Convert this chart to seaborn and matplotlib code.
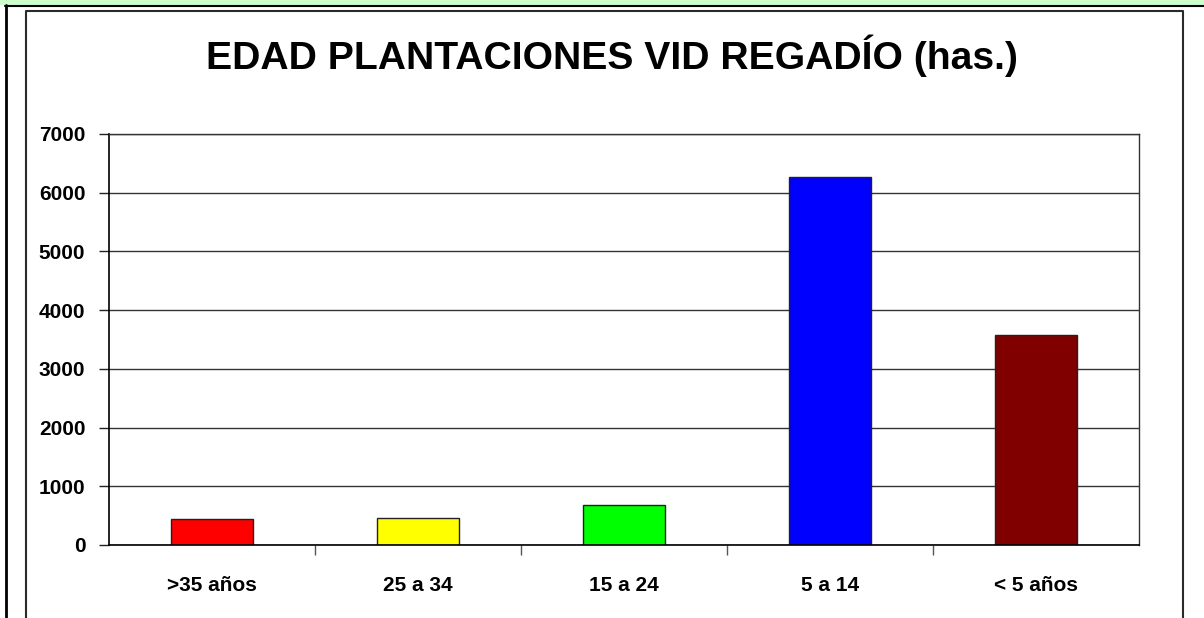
import matplotlib
matplotlib.use("Agg")
import matplotlib.pyplot as plt
import seaborn as sns
import pandas as pd
from matplotlib.lines import Line2D
from matplotlib.patches import Rectangle

# Data
categories = [">35 años", "25 a 34", "15 a 24", "5 a 14", "< 5 años"]
hectares = [445, 465, 675, 6265, 3585]
bar_colors = ["#ff0000", "#ffff00", "#00ff00", "#0000ff", "#800000"]
y_ticks = [0, 1000, 2000, 3000, 4000, 5000, 6000, 7000]
title = "EDAD PLANTACIONES VID REGADÍO (has.)"

W, H = 1204, 618

sns.set_theme(style="ticks")
plt.rcParams["font.family"] = ["Liberation Sans", "DejaVu Sans"]
plt.rcParams["font.weight"] = "bold"

fig = plt.figure(figsize=(W / 100, H / 100), dpi=100)
fig.patch.set_facecolor("white")


def fx(px):
    return px / W


def fy(py):
    return 1 - py / H


# page decoration: green strip, thick rule, left border, inner chart box
fig.add_artist(Rectangle((0, fy(4.6)), 1, 4.6 / H, transform=fig.transFigure,
                         facecolor="#ccffcc", edgecolor="none"))
fig.add_artist(Line2D([fx(5), 1], [fy(5.6), fy(5.6)], transform=fig.transFigure,
                      color="black", lw=1.5))
fig.add_artist(Line2D([fx(6), fx(6)], [fy(5), 0], transform=fig.transFigure,
                      color="black", lw=2.0))
fig.add_artist(Line2D([fx(25.8), fx(25.8), fx(1183), fx(1183)],
                      [0, fy(11.2), fy(11.2), 0], transform=fig.transFigure,
                      color="#2a2a2a", lw=1.5))

ax = fig.add_axes([fx(109), fy(545), fx(1139) - fx(109), (545 - 134) / H])

df = pd.DataFrame({"edad": categories, "has": hectares})
sns.barplot(data=df, x="edad", y="has", hue="edad", palette=bar_colors,
            legend=False, width=0.4, edgecolor="#222222", linewidth=1.0,
            saturation=1, ax=ax)

ax.set_xlim(-0.5, len(categories) - 0.5)
ax.set_ylim(0, 7000)
ax.set_yticks(y_ticks)
ax.set_yticklabels([str(t) for t in y_ticks], fontsize=15, fontweight="bold",
                   color="black")
ax.set_xticks([i + 0.5 for i in range(len(categories) - 1)], minor=False)
ax.set_xticklabels([])
ax.set_xticks(range(len(categories)), minor=True)
ax.set_xticklabels(categories, minor=True, fontsize=15, fontweight="bold",
                   color="black")
ax.tick_params(axis="x", which="minor", length=0, pad=22)
ax.tick_params(axis="x", which="major", length=7, width=1, color="#555555",
               direction="out")
ax.tick_params(axis="y", length=7, width=1, color="#222222", pad=10,
               direction="out")
ax.set_xlabel("")
ax.set_ylabel("")

ax.yaxis.grid(True, color="#333333", linewidth=1)
ax.set_axisbelow(True)
for side in ["left", "bottom"]:
    ax.spines[side].set_color("black")
    ax.spines[side].set_linewidth(1.2)
for side in ["top", "right"]:
    ax.spines[side].set_visible(True)
    ax.spines[side].set_color("#333333")
    ax.spines[side].set_linewidth(1.0)

fig.text(fx(612), fy(69), title, ha="center", va="baseline",
         fontsize=28.2, fontweight="bold", color="black")

fig.savefig("out.png", dpi=100, facecolor="white")
